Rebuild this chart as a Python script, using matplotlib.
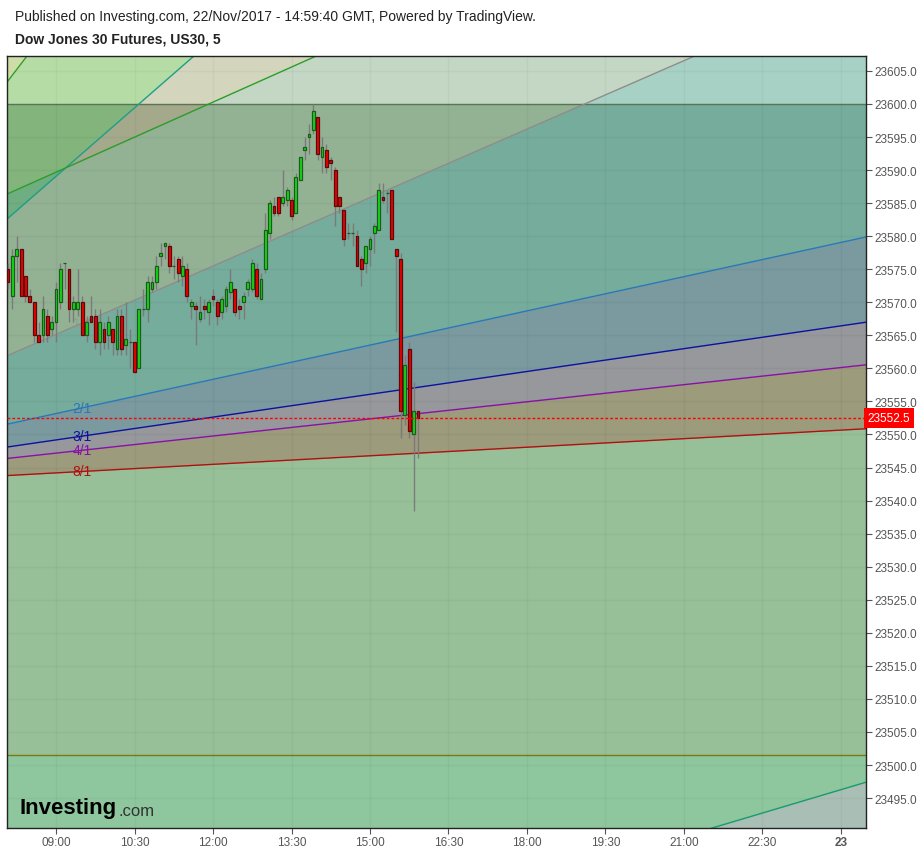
import numpy as np
import matplotlib.pyplot as plt

# --- data (prices, 5 min bars starting 08:05) ---
first_bar = "08:05"
bar_minutes = 5
opens = [23575, 23571, 23577, 23578, 23574, 23571, 23570, 23565, 23565, 23568,
         23566, 23567, 23570, 23576, 23575, 23569, 23569, 23570, 23565, 23568,
         23568, 23564, 23566, 23565, 23566, 23563, 23568, 23563.5, 23564, 23564,
         23560, 23569, 23569, 23572, 23573, 23577, 23578.5, 23578.5, 23575.5, 23576.5,
         23574, 23575, 23569.5, 23569.5, 23567.5, 23569.5, 23568.5, 23571, 23570, 23568.5,
         23569.5, 23571.5, 23572, 23569.5, 23570, 23572, 23572, 23575, 23570.5, 23575,
         23580.5, 23584.5, 23586, 23585, 23585.5, 23585.5, 23583.5, 23588.5, 23593, 23595,
         23596, 23598, 23592, 23593, 23591.5, 23590, 23586, 23584, 23580.5, 23580.5,
         23580, 23576.5, 23576, 23578, 23580.5, 23581, 23586, 23586.5, 23587, 23578,
         23576.5, 23553, 23563, 23550, 23553.5]
highs = [23576, 23578, 23580, 23578, 23574, 23572, 23570, 23567, 23571, 23569,
         23568, 23573, 23576, 23576, 23575, 23571, 23575, 23571, 23568, 23571,
         23569, 23569, 23567, 23568, 23566, 23569, 23569, 23570, 23566, 23564,
         23569, 23572, 23574, 23574, 23577, 23579, 23579, 23579, 23577, 23577,
         23577, 23576, 23570.5, 23570, 23571, 23570.5, 23570.5, 23572, 23570.5, 23571,
         23572.5, 23575, 23572, 23570.5, 23571.5, 23573.5, 23576.5, 23576, 23574.5, 23583.5,
         23585.5, 23586, 23586, 23590, 23587.5, 23586, 23589.5, 23592, 23595, 23597,
         23600, 23598, 23595, 23594, 23592, 23590.5, 23586, 23584, 23582, 23582,
         23581, 23577, 23578.5, 23580, 23582, 23588, 23588, 23587, 23587, 23578,
         23577.5, 23562, 23564, 23558, 23553.5]
lows = [23572, 23569, 23573, 23571, 23570, 23570, 23564, 23564, 23564, 23564,
        23565, 23564, 23569, 23572, 23567, 23567, 23568, 23565, 23564, 23567,
        23563, 23562, 23563, 23563, 23562, 23562, 23562, 23562, 23560, 23559.5,
        23560, 23568, 23567, 23571.5, 23572, 23575.5, 23576.5, 23574.5, 23573.5, 23573,
        23572.5, 23570, 23567.5, 23563.5, 23567, 23567.5, 23566.5, 23569.5, 23566.5, 23567.5,
        23568.5, 23570.5, 23568, 23567.5, 23567.5, 23571, 23571.5, 23570.5, 23570.5, 23574.5,
        23579.5, 23583, 23583, 23584.5, 23584.5, 23582.5, 23583.5, 23588.5, 23591.5, 23592.5,
        23595.5, 23591.5, 23589.5, 23589.5, 23588.5, 23581.5, 23583.5, 23578.5, 23579.5, 23578.5,
        23575.5, 23572.5, 23574.5, 23575.5, 23577.5, 23581, 23585, 23583.5, 23579.5, 23565.5,
        23549.5, 23551.5, 23549.5, 23538.5, 23546.5]
closes = [23573, 23577, 23578, 23571, 23571, 23570, 23565, 23564, 23569, 23565,
          23567, 23572, 23575, 23576, 23569, 23570, 23570, 23565, 23567, 23567,
          23564, 23567, 23564, 23567, 23564, 23568, 23563, 23564.5, 23564, 23559.5,
          23569, 23569, 23573, 23573, 23575.5, 23577.5, 23579, 23575.5, 23575.5, 23574.5,
          23575.5, 23571, 23570, 23569, 23568.5, 23569, 23570, 23570.5, 23568, 23570.5,
          23572, 23573, 23568.5, 23569, 23571, 23573, 23576, 23571, 23573.5, 23581,
          23585, 23583.5, 23583.5, 23586, 23587, 23583, 23589, 23592, 23593.5, 23595.5,
          23599, 23592.5, 23593.5, 23590.5, 23591, 23584.5, 23584.5, 23579.5, 23580.5, 23580.5,
          23575.5, 23575, 23578.5, 23579.5, 23581.5, 23587, 23585.5, 23586.5, 23579.5, 23577,
          23553.5, 23560.5, 23550.5, 23553.5, 23552.5]
last_price = 23552.5

tick_times = ["09:00", "10:30", "12:00", "13:30", "15:00", "16:30", "18:00",
              "19:30", "21:00", "22:30", "24:00"]
tick_labels = ["09:00", "10:30", "12:00", "13:30", "15:00", "16:30", "18:00",
               "19:30", "21:00", "22:30", "23"]

# gann fan drawings (origin time in minutes from midnight, price, 1/1 slope in points per minute)
fan1_origin = (124.0, 23541.2)
fan1_unit = 0.05753
fan1_levels = ["8/1", "4/1", "3/1", "2/1", "1/1", "1/2", "1/3"]
fan1_mult = [1 / 8, 1 / 4, 1 / 3, 1 / 2, 1, 2, 3]
fan1_colors = ["#b01010", "#8a10a8", "#1010a0", "#2a78b8", "#8c8c8c", "#1f9e8a", "#2ca02c"]
fan2_origin = (-6016.0, 23203.4)
fan2_unit = 0.01964
box_low, box_high = 23501.5, 23600.0

view_x = (483.8, 1468.7)
view_y = (23490.47, 23607.26)


def hm(s):
    h, m = s.split(":")
    return int(h) * 60 + int(m)


def fan(origin, unit, mult, m):
    return origin[1] + unit * mult * (m - origin[0])


fig = plt.figure(figsize=(9.24, 8.54), dpi=100)
ax = fig.add_axes([7 / 924, 25 / 854, 859 / 924, 772 / 854])
ax.set_xlim(*view_x)
ax.set_ylim(*view_y)

m = np.linspace(view_x[0] - 5, view_x[1] + 5, 3000)
ytop = np.full_like(m, view_y[1] + 5)
ybot = np.full_like(m, view_y[0] - 5)
L = {lv: fan(fan1_origin, fan1_unit, k, m) for lv, k in zip(fan1_levels, fan1_mult)}
G = fan(fan2_origin, fan2_unit, 3, m)
B = fan(fan2_origin, fan2_unit, 2, m)


def paint(lower, upper, c_up, c_in, c_down):
    bands = [(box_high, view_y[1] + 5, c_up), (box_low, box_high, c_in),
             (view_y[0] - 5, box_low, c_down)]
    for a, b, c in bands:
        if c is None:
            continue
        lo = np.clip(lower, a, b)
        hi = np.maximum(np.clip(upper, a, b), lo)
        ax.fill_between(m, lo, hi, color=c, lw=0, zorder=0)


paint(ybot, ytop, "#c3d7c4", "#98c098", "#8ec79d")
paint(L["8/1"], ytop, None, "#9c9b7c", None)
paint(L["4/1"], ytop, None, "#96989c", None)
paint(L["3/1"], ytop, None, "#7a9a9f", None)
paint(L["2/1"], ytop, "#a8d1c6", "#76ac9c", None)
paint(L["1/1"], ytop, "#c3d7c4", "#93b294", None)
paint(G, ytop, "#d3d6bd", "#a3a98a", None)
paint(L["1/2"], ytop, "#b6dca6", "#82b47c", None)
paint(L["1/2"], np.maximum(G, L["1/2"]), "#b6dca6", "#6fae80", None)
paint(L["1/3"], ytop, "#d0dca8", "#d0dca8", None)
paint(ybot, B, None, None, "#a9beb4")

ax.axhline(box_high, color="#5d7a5a", lw=1, zorder=1)
ax.axhline(box_low, color="#7a7a10", lw=1, zorder=1)

for lv, c in zip(fan1_levels, fan1_colors):
    ax.plot(m, L[lv], color=c, lw=1, zorder=2)
ax.plot(m, G, color="#2a9d2a", lw=1, zorder=2)
ax.plot(m, B, color="#1a9a70", lw=1, zorder=2)

# level labels
lab_x = 570
for lv, c in zip(fan1_levels, fan1_colors):
    if lv in ("8/1", "4/1", "3/1", "2/1"):
        ax.text(lab_x, fan(fan1_origin, fan1_unit, fan1_mult[fan1_levels.index(lv)], lab_x),
                lv, color=c, fontsize=10, ha="center", va="center", zorder=3,
                family="Liberation Sans")
ax.text(lab_x, fan(fan1_origin, fan1_unit, 1, lab_x), "1/1", color="#8fa08f",
        fontsize=10, ha="center", va="center", zorder=1, family="Liberation Sans")

# grid
for t in tick_times:
    ax.axvline(hm(t), color="#000000", alpha=0.035, lw=1, zorder=1)
yt = np.arange(23495, 23606, 5)
for v in yt:
    ax.axhline(v, color="#000000", alpha=0.035, lw=1, zorder=1)

# candles
t = hm(first_bar) + bar_minutes * np.arange(len(opens))
o = np.array(opens)
c = np.array(closes)
up = c >= o
ax.vlines(t, lows, highs, color="#7a7a7a", lw=1, zorder=4)
body_lo = np.minimum(o, c)
body_h = np.abs(c - o)
ax.bar(t[up], body_h[up], bottom=body_lo[up], width=3.2, color="#14d914",
       edgecolor="#1d5a1d", lw=0.9, zorder=5)
ax.bar(t[~up], body_h[~up], bottom=body_lo[~up], width=3.2, color="#ee0000",
       edgecolor="#5a0a0a", lw=0.9, zorder=5)

# last price
ax.axhline(last_price, color="#ff0000", lw=1, ls=(0, (2, 1.5)), zorder=6)
ax.text(1.002, last_price, f"{last_price:.1f}", transform=ax.get_yaxis_transform(),
        color="white", fontsize=8.5, va="center", ha="left", family="Liberation Sans",
        bbox=dict(boxstyle="square,pad=0.3", fc="#ff0000", ec="none"), zorder=7,
        clip_on=False)

# axes
ax.yaxis.tick_right()
ax.set_yticks(yt)
ax.set_yticklabels([f"{v:.1f}" for v in yt], family="Liberation Sans", fontsize=8.5, color="#555555")
ax.set_xticks([hm(s) for s in tick_times])
ax.set_xticklabels(tick_labels, fontsize=8.5, color="#555555", family="Liberation Sans")
ax.get_xticklabels()[-1].set_fontweight("bold")
ax.tick_params(axis="both", length=4, width=0.8, color="#555555", pad=2)
for s in ax.spines.values():
    s.set_color("#222222")
    s.set_linewidth(1)

fig.text(15 / 924, 1 - 17 / 854, "Published on Investing.com, 22/Nov/2017 - 14:59:40 GMT, Powered by TradingView.",
         fontsize=10, va="center", ha="left", family="Liberation Sans", color="#222222")
fig.text(15 / 924, 1 - 40 / 854, "Dow Jones 30 Futures, US30, 5", fontsize=10, fontweight="bold",
         va="center", ha="left", family="Liberation Sans", color="#222222")

# logo
logo = ax.text(0.015, 0.02, "Investing", transform=ax.transAxes, fontsize=16, fontweight="bold",
               color="black", family="Liberation Sans", va="baseline", ha="left", zorder=8)
ax.annotate(".com", xy=(1, 0), xycoords=logo, xytext=(1, 0), textcoords="offset points",
            fontsize=12, color="#333333", family="Liberation Sans", va="bottom", ha="left",
            zorder=8)

fig.savefig("out.png", dpi=100)
